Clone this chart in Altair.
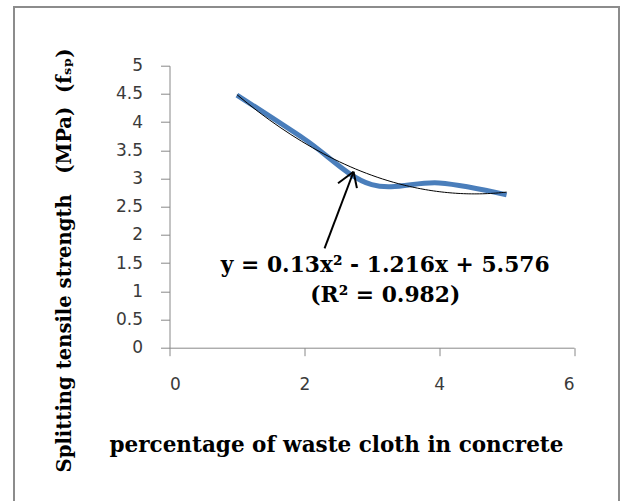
import altair as alt
import pandas as pd

# data
pct = [1, 2, 3, 4, 5]
fsp = [4.48, 3.70, 2.89, 2.92, 2.71]

# annotation (data coordinates)
arrow_x = [2.30, 2.50, 2.78]
arrow_y = [1.76, 2.915, 2.83]
tip_x, tip_y = 2.73, 3.12
eq_lines = ["y = 0.13x² - 1.216x + 5.576", "(R² = 0.982)"]
eq_x = [3.2, 3.2]
eq_y = [1.46, 0.93]

x_ticks = [0, 2, 4, 6]
y_ticks = [0, 0.5, 1, 1.5, 2, 2.5, 3, 3.5, 4, 4.5, 5]

df = pd.DataFrame({"x": pct, "y": fsp})
arrows = pd.DataFrame({"x": arrow_x, "y": arrow_y,
                       "x2": [tip_x] * 3, "y2": [tip_y] * 3})
eq = pd.DataFrame({"t": eq_lines, "x": eq_x, "y": eq_y})

SERIF = "DejaVu Serif"
W, H = 404.5, 282
PL, PT = 169.5, 65.7
NB = "\u00a0"

xs = alt.Scale(domain=[0, 6], nice=False)
ys = alt.Scale(domain=[0, 5], nice=False)

xaxis = alt.Axis(values=x_ticks, format="~g", title="percentage of waste cloth in concrete",
                 grid=False, tickSize=8, labelPadding=21, labelFont="DejaVu Sans",
                 labelFontSize=17, labelColor="#3a3a3a", domainColor="#888888",
                 tickColor="#888888", titleFont=SERIF, titleFontWeight="bold",
                 titleFontSize=21.5, titleColor="black", titleX=166.5, titleY=104,
                 titleAlign="center", titleBaseline="alphabetic", labelOverlap=False)
yaxis = alt.Axis(values=y_ticks, format="~g",
                 title="Splitting tensile strength" + NB * 3 + "(MPa)" + NB * 2 + "(fₛₚ)",
                 grid=False, tickSize=9, labelPadding=18, labelFont="DejaVu Sans",
                 labelFontSize=17, labelColor="#3a3a3a", domainColor="#888888",
                 tickColor="#888888", titleFont=SERIF, titleFontWeight="bold",
                 titleFontSize=19.6, titleColor="black", titleX=-99.5, titleY=194.3,
                 titleAngle=270, titleAlign="center", titleBaseline="alphabetic",
                 labelOverlap=False)

X = alt.X("x:Q", scale=xs, axis=xaxis)
Y = alt.Y("y:Q", scale=ys, axis=yaxis)

border = alt.Chart(df).mark_rect(fill=None, stroke="#8c8c8c", strokeWidth=2).encode(
    x=alt.value(14 - PL), x2=alt.value(619 - PL),
    y=alt.value(7 - PT), y2=alt.value(560))

blue = alt.Chart(df).mark_line(color="#4a7ebb", strokeWidth=5,
                               interpolate="catmull-rom").encode(x=X, y=Y)

trend = alt.Chart(df).transform_regression(
    "x", "y", method="poly", order=2, extent=[1, 5]
).mark_line(color="black", strokeWidth=1).encode(x=X, y=Y)

arrow = alt.Chart(arrows).mark_rule(color="black", strokeWidth=2).encode(
    x=X, y=Y, x2="x2:Q", y2="y2:Q")

text = alt.Chart(eq).mark_text(font=SERIF, fontWeight="bold", fontSize=21.8,
                               color="black", align="center", baseline="middle").encode(
    x=X, y=Y, text="t:N")

chart = alt.layer(border, blue, trend, arrow, text).properties(
    width=W, height=H,
    autosize=alt.AutoSizeParams(type="none"),
    padding={"left": PL, "top": PT, "right": 621 - PL - W, "bottom": 501 - PT - H},
    background="white",
).configure_view(stroke=None)

chart.save("out.html", embed_options={"renderer": "svg", "actions": False})
